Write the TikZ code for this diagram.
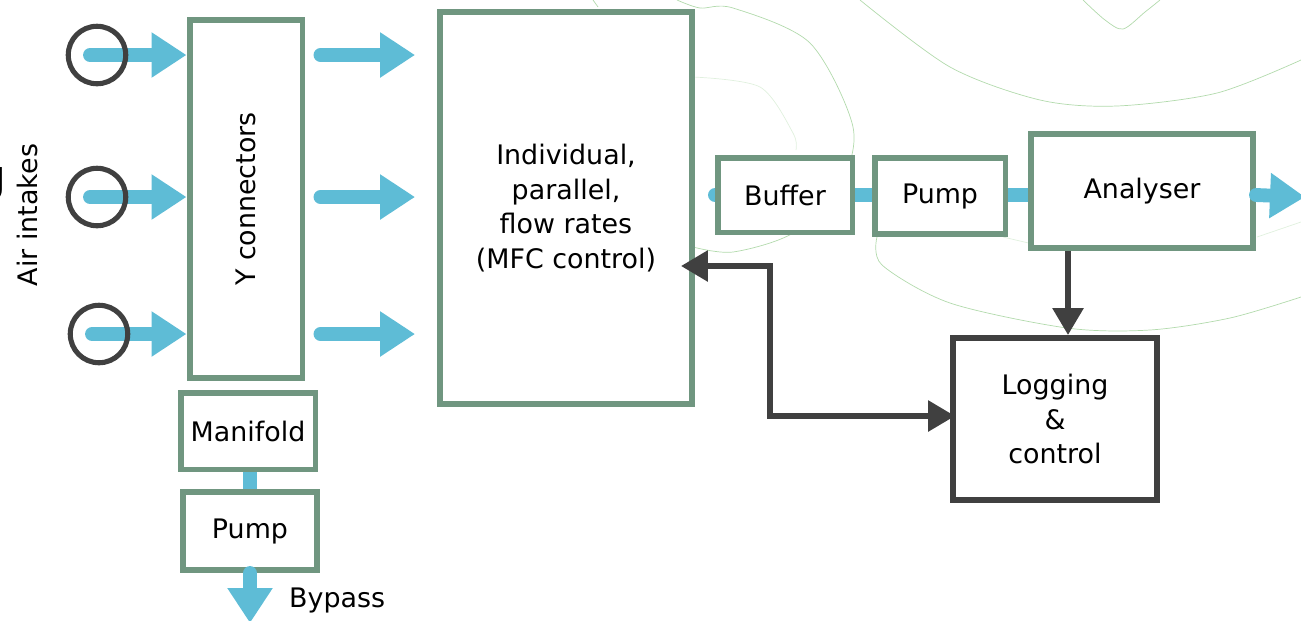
\documentclass[tikz,border=0pt]{standalone}
\usepackage{fontspec}
\setmainfont{DejaVu Sans}
\usetikzlibrary{arrows.meta,positioning,backgrounds}
\definecolor{boxgreen}{RGB}{112,150,128}
\definecolor{flowblue}{RGB}{94,188,214}
\definecolor{darkline}{RGB}{64,64,64}
\definecolor{faintgreen}{RGB}{178,218,172}

\tikzset{
  unit/.style={draw=boxgreen, line width=3.4pt, fill=white, align=center, inner sep=0pt},
  ctrlbox/.style={draw=darkline, line width=3.4pt, fill=white, align=center, inner sep=0pt},
  intake/.style={circle, draw=darkline, line width=2.9pt, minimum size=1.15cm, inner sep=0pt},
  flow/.style={flowblue, line width=7.9pt, line cap=round},
  flowarrow/.style={flow, -{Triangle[length=0.7cm, width=0.86cm]}},
  sigarrow/.style={darkline, line width=3.4pt, -{Triangle[length=0.54cm, width=0.6cm]}},
  signal/.style={darkline, line width=3.4pt, {Triangle[length=0.54cm, width=0.6cm]}-{Triangle[length=0.54cm, width=0.6cm]}},
  faint/.style={faintgreen, line width=0.4pt}
}

\begin{document}
\begin{tikzpicture}[x=0.02cm, y=-0.02cm, font=\fontsize{15.3}{19.7}\selectfont]
  \useasboundingbox (0,0) rectangle (1301,620);

  \draw[faint] plot[smooth] coordinates {(677,0) (700,8) (733,8) (810,43) (853,127) (840,185) (793,233) (733,252) (693,247)};
  \draw[faint, opacity=0.4] plot[smooth] coordinates {(693,77) (760,87) (793,133) (796,150)};
  \draw[faint] plot[smooth] coordinates {(860,0) (950,67) (1040,100) (1117,106) (1217,93) (1301,60)};
  \draw[faint] plot[smooth] coordinates {(1083,0) (1105,20) (1123,29) (1145,12) (1160,0)};
  \draw[faint] plot[smooth] coordinates {(877,237) (882,265) (950,303) (1067,328) (1150,330) (1230,318) (1301,297)};
  \draw[faint, opacity=0.4] plot[smooth] coordinates {(1003,237) (1037,245)};
  \draw[faint, opacity=0.4] plot[smooth] coordinates {(1257,237) (1301,222)};
  \draw[faint] (593,0) -- (598,7);

  \node[font=\fontsize{26}{26}\bfseries\selectfont, anchor=base east, inner sep=0pt] (gfrag) at (7,192) {g};

  \node[rotate=90] (airlbl) at (27,215) {Air intakes};

  \node[intake] (in1) at (97,55) {};
  \node[intake] (in2) at (97,197) {};
  \node[intake] (in3) at (99,334) {};

  \node[unit, minimum width=2.26cm, minimum height=7.16cm] (yconn) at (246,199) {\rotatebox{90}{Y connectors}};
  \node[unit, minimum width=5.04cm, minimum height=7.86cm] (mfc) at (566,208) {Individual,\\parallel,\\flow rates\\(MFC control)};

  \node[unit, minimum width=2.7cm, minimum height=1.5cm] (buffer) at (785,195) {Buffer};
  \node[unit, minimum width=2.62cm, minimum height=1.52cm] (pump) at (940,196) {Pump};
  \node[unit, minimum width=4.44cm, minimum height=2.28cm] (analyser) at (1142,191) {Analyser};
  \node[ctrlbox, minimum width=4.08cm, minimum height=3.24cm] (logging) at (1055,419) {Logging\\\&\\control};

  \node[unit, minimum width=2.7cm, minimum height=1.54cm] (manifold) at (248,431) {Manifold};
  \node[unit, minimum width=2.68cm, minimum height=1.56cm] (bypump) at (250,531) {Pump};
  \node[anchor=west] (bypass) at (283,600) {Bypass};

  \coordinate (outlet) at (1305,197);
  \coordinate (bypassend) at (250,623);
  \coordinate (k1) at (770,266);
  \coordinate (k2) at (770,416);

  \begin{scope}[on background layer]
    \draw[flowarrow] ([xshift=-0.14cm]in1.center) -- (in1 -| yconn.west);
    \draw[flowarrow] ([xshift=-0.14cm]in2.center) -- (in2 -| yconn.west);
    \draw[flowarrow] ([xshift=-0.14cm]in3.center) -- (in3 -| yconn.west);
    \draw[flow] ([xshift=0.4cm]mfc.east |- buffer) -- (analyser.west |- buffer);
    \draw[flow] (bypump.north |- manifold.south) -- (bypump.north);
  \end{scope}

  \draw[flowarrow] ([xshift=0.3cm]yconn.east |- in1) -- ([xshift=-0.44cm]mfc.west |- in1);
  \draw[flowarrow] ([xshift=0.3cm]yconn.east |- in2) -- ([xshift=-0.44cm]mfc.west |- in2);
  \draw[flowarrow] ([xshift=0.3cm]yconn.east |- in3) -- ([xshift=-0.44cm]mfc.west |- in3);
  \draw[flowarrow] (analyser.east |- buffer) -- (outlet);
  \draw[flowarrow] (bypump.south) -- (bypassend);

  \draw[sigarrow] ([xshift=-1.48cm]analyser.south) -- ([xshift=-1.48cm]analyser.south |- logging.north);
  \draw[signal] ([xshift=-0.28cm]mfc.east |- k1) -- (k1) -- (k2) -- ([xshift=0.1cm]logging.west |- k2);

\end{tikzpicture}
\end{document}
